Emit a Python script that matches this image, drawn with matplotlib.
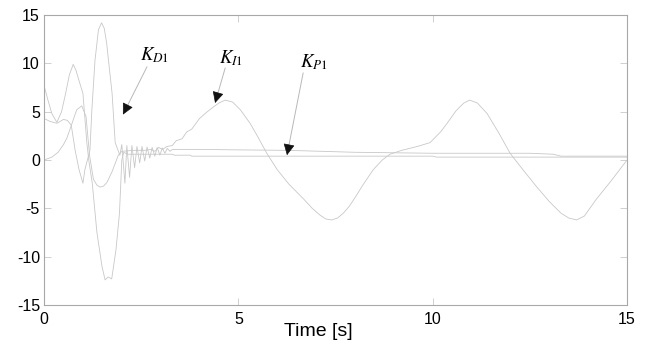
import numpy as np
import matplotlib.pyplot as plt

plt.rcParams['font.family'] = ['Liberation Sans', 'DejaVu Sans']
plt.rcParams['mathtext.fontset'] = 'stix'

# K_I1 - the slow oscillating gain
t_ki = [0.0, 0.2, 0.36, 0.5, 0.59, 0.72, 0.84, 0.97, 1.08, 1.17, 1.27, 1.36, 1.44,
        1.53, 1.62, 1.75, 1.91, 2.0, 2.3, 2.6, 2.75, 2.85, 2.95, 3.05, 3.16, 3.3,
        3.4, 3.55, 3.67, 3.8, 4.0, 4.2, 4.36, 4.5, 4.66, 4.85, 5.05, 5.3, 5.5, 5.73,
        6.0, 6.3, 6.67, 6.9, 7.1, 7.25, 7.4, 7.55, 7.7, 7.85, 8.0, 8.2, 8.47, 8.7, 8.9, 9.2,
        9.6, 9.93, 10.2, 10.37, 10.6, 10.8, 10.95, 11.15, 11.4, 11.7, 11.99, 12.3, 12.68,
        13.0, 13.3, 13.5, 13.7, 13.9, 14.2, 14.6, 15.0]
v_ki = [0.0, 0.3, 0.8, 1.6, 2.3, 3.8, 5.2, 5.6, 4.5, 0.5, -2.0, -2.6, -2.8,
        -2.7, -2.3, -1.2, 0.5, 0.9, 1.0, 1.0, 1.1, 0.9, 1.3, 1.1, 1.4, 1.5,
        2.0, 2.2, 2.9, 3.2, 4.3, 5.0, 5.5, 5.9, 6.2, 6.0, 5.2, 3.8, 2.4, 0.7,
        -1.0, -2.5, -4.0, -5.0, -5.7, -6.1, -6.2, -6.0, -5.5, -4.8, -3.9, -2.6, -1.0, 0.0, 0.6, 1.0,
        1.4, 1.8, 2.9, 3.8, 5.1, 5.9, 6.2, 5.9, 4.8, 2.8, 0.7, -0.9, -2.8,
        -4.3, -5.5, -6.0, -6.2, -5.8, -4.1, -2.1, 0.0]

# K_P1 - starts at 7.7, deep negative swing
t_kp = [0.0, 0.1, 0.2, 0.33, 0.45, 0.55, 0.65, 0.75, 0.82, 0.9, 1.0, 1.1, 1.15,
        1.24, 1.36, 1.49, 1.57, 1.65, 1.74, 1.85, 1.94, 2.0, 2.05, 2.15, 2.7,
        3.3, 3.35, 3.76, 3.8, 10.0, 10.1, 15.0]
v_kp = [7.7, 6.2, 4.8, 3.9, 5.0, 6.8, 8.8, 9.9, 9.3, 8.2, 6.9, 1.8, 0.0,
        -2.4, -7.5, -11.0, -12.4, -12.1, -12.3, -9.3, -5.5, 0.0, 0.8, 0.6, 0.6,
        0.6, 0.5, 0.5, 0.4, 0.4, 0.3, 0.3]

# K_D1 - starts at 4.3, big positive swing then ringing
t_kd = [0.0, 0.15, 0.33, 0.5, 0.6, 0.7, 0.8, 0.9, 1.0, 1.05, 1.18, 1.23, 1.31,
        1.4, 1.48, 1.55, 1.61, 1.75, 1.83, 1.95,
        2.0, 2.08, 2.13, 2.2, 2.26, 2.33, 2.39, 2.46, 2.52, 2.59, 2.65, 2.72,
        2.78, 2.85, 2.91, 2.98, 3.04, 3.11, 3.17, 3.24, 3.3,
        4.0, 5.0, 6.3, 8.0, 10.0, 12.5, 13.1, 13.3, 15.0]
v_kd = [4.3, 4.0, 3.8, 4.2, 4.1, 3.6, 1.0, -1.0, -2.4, -1.0, 1.0, 5.2, 10.3,
        13.5, 14.2, 13.6, 12.1, 6.9, 1.8, 0.5,
        1.6, -2.4, 1.5, -1.8, 1.5, -0.8, 1.4, -0.3, 1.4, -0.1, 1.35, 0.2,
        1.3, 0.4, 1.3, 0.5, 1.25, 0.7, 1.2, 0.9, 1.1,
        1.1, 1.05, 1.0, 0.8, 0.7, 0.7, 0.6, 0.4, 0.4]

line_col = '#c8c8c8'
axis_col = '#a8a8a8'

fig = plt.figure(figsize=(6.48, 3.46), dpi=100)
ax = fig.add_axes([0.068, 0.1185, 0.8997, 0.838])

ax.plot(t_ki, v_ki, color=line_col, lw=0.6)
ax.plot(t_kp, v_kp, color=line_col, lw=0.6)
ax.plot(t_kd, v_kd, color=line_col, lw=0.6)

ax.set_xlim(0, 15)
ax.set_ylim(-15, 15)
ax.set_xticks([0, 5, 10, 15])
ax.set_yticks([-15, -10, -5, 0, 5, 10, 15])
ax.set_yticklabels(['-15', '-10', '-5', '0', '5', '10', '15'])
ax.tick_params(direction='in', length=5, width=0.7, color='#d0d0d0',
               top=True, right=True, labelsize=11.5, pad=3)
ax.tick_params(axis='x', pad=5)
for s in ax.spines.values():
    s.set_color(axis_col)
    s.set_linewidth(0.8)
# the -10 ticks are drawn black in the original
tk = ax.yaxis.get_major_ticks()[1]
tk.tick1line.set_color('k')
tk.tick2line.set_color('k')

ax.set_xlabel('Time [s]', fontsize=14)
ax.xaxis.set_label_coords(0.471, -0.09)
ax.xaxis.label.set_va('center')


# annotations: grey shaft + black head
def label_arrow(txt, tip, txt_pos, start):
    ax.annotate('', xy=tip, xytext=start,
                arrowprops=dict(arrowstyle='-', color='#b8b8b8', lw=0.7))
    dx = start[0] - tip[0]
    dy = start[1] - tip[1]
    n = np.hypot(dx / 15 * 583, dy / 30 * 290)
    back = (tip[0] + dx * 10 / n, tip[1] + dy * 10 / n)
    ax.annotate('', xy=tip, xytext=back,
                arrowprops=dict(arrowstyle='-|>,head_length=0.7,head_width=0.35',
                                color='#111111', lw=0.5, shrinkA=0, shrinkB=0))
    ax.text(txt_pos[0], txt_pos[1], txt, fontsize=13.5, ha='center', va='center')


label_arrow(r'$K_{D1}$', (2.03, 4.7), (2.85, 10.8), (2.68, 9.9))
label_arrow(r'$K_{I1}$', (4.4, 5.9), (4.8, 10.5), (4.68, 9.8))
label_arrow(r'$K_{P1}$', (6.25, 0.5), (6.95, 10.1), (6.68, 9.3))

fig.savefig('out.png', dpi=100)
